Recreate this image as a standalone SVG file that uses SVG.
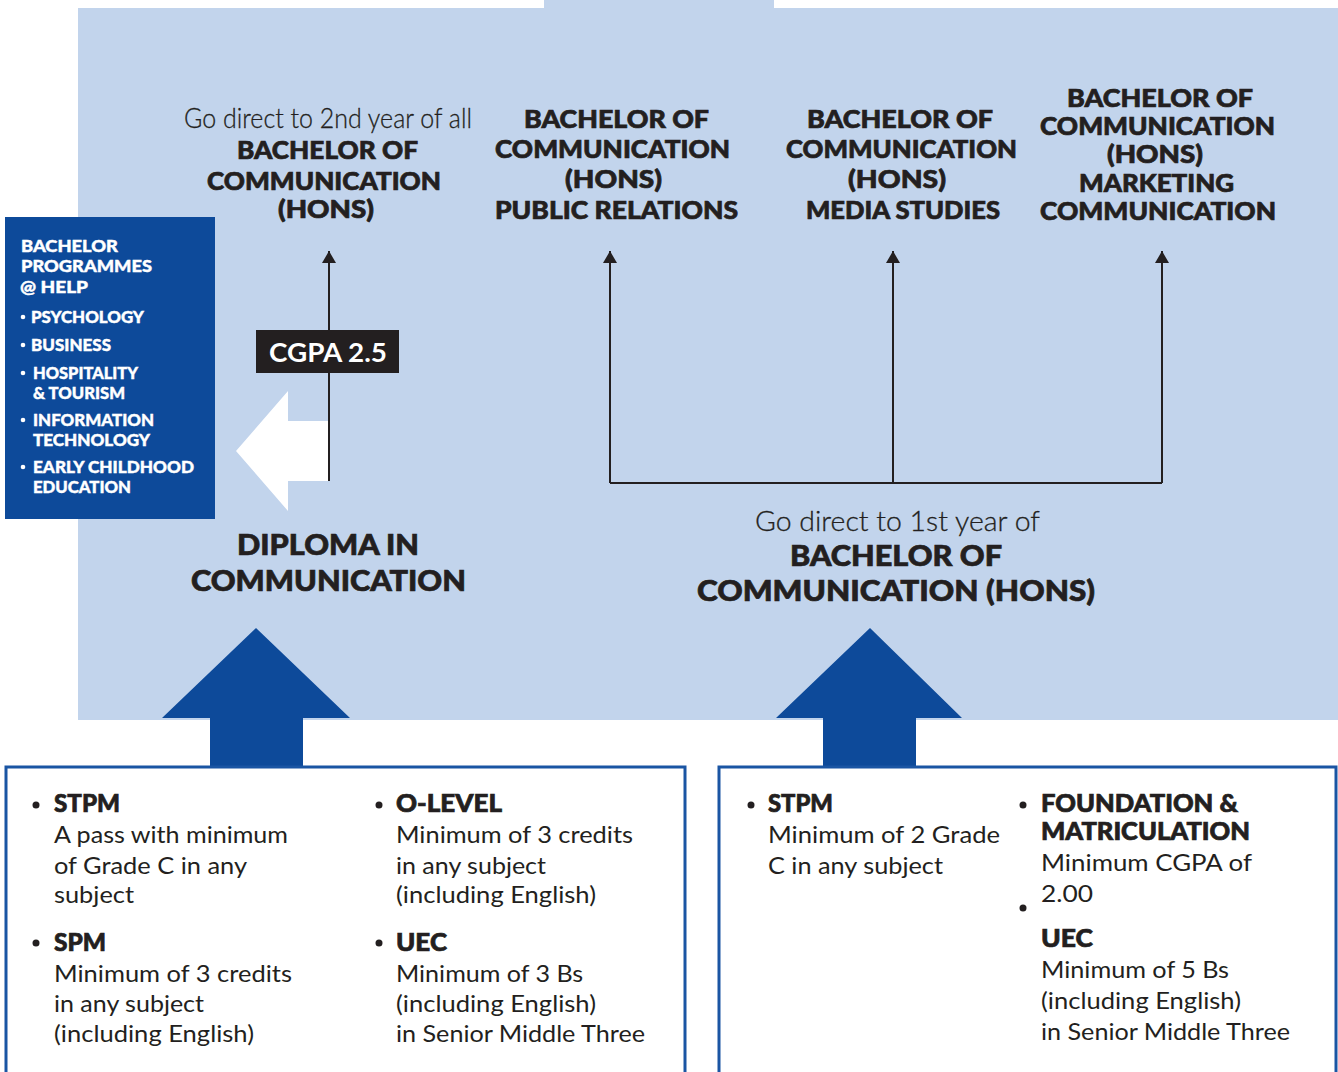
<svg xmlns="http://www.w3.org/2000/svg" width="1338" height="1072" viewBox="0 0 1338 1072">
<defs>
<style>
.h{font-family:Lato,"Liberation Sans",sans-serif;font-weight:900;fill:#231f20;stroke:#231f20;stroke-width:0.7px}
.l{font-family:Lato,"Liberation Sans",sans-serif;font-weight:400;fill:#231f20}
.g{font-family:Lato,"Liberation Sans",sans-serif;font-weight:300;fill:#231f20;stroke:#231f20;stroke-width:0.3px;font-size:28px}
.w{font-family:Lato,"Liberation Sans",sans-serif;font-weight:900;fill:#ffffff;stroke:#ffffff;stroke-width:0.4px;font-size:16px}
.t{font-size:25px}
.d{font-size:29px}
.b{font-size:24px}
.conn{stroke:#231f20;stroke-width:2;fill:none}
.blue{fill:#0d4a9a}
.box{fill:#ffffff;stroke:#1a55a3;stroke-width:3}
</style>
<marker id="ah" markerUnits="userSpaceOnUse" viewBox="0 0 12 14" refX="12" refY="7" markerWidth="12" markerHeight="14" orient="auto">
<path d="M0,0 L12,7 L0,14 z" fill="#231f20"/>
</marker>
</defs>
<rect width="1338" height="1072" fill="#ffffff"/>
<g id="background">
<rect x="78" y="8" width="1260" height="712" fill="#c2d4ec"/>
<rect x="544" y="0" width="230" height="10" fill="#c2d4ec"/>
</g>

<g id="bachelor-programmes">
<rect x="5" y="217" width="210" height="302" class="blue"/>
<text class="w" x="21" y="252" textLength="97" lengthAdjust="spacingAndGlyphs">BACHELOR</text>
<text class="w" x="21" y="272" textLength="131" lengthAdjust="spacingAndGlyphs">PROGRAMMES</text>
<text class="w" x="20" y="293" textLength="68" lengthAdjust="spacingAndGlyphs">@ HELP</text>
<circle cx="23" cy="317" r="2.3" fill="#fff"/>
<text class="w" x="31" y="323" textLength="113" lengthAdjust="spacingAndGlyphs">PSYCHOLOGY</text>
<circle cx="23" cy="345" r="2.3" fill="#fff"/>
<text class="w" x="31" y="351" textLength="80" lengthAdjust="spacingAndGlyphs">BUSINESS</text>
<circle cx="23" cy="373" r="2.3" fill="#fff"/>
<text class="w" x="33" y="379" textLength="105" lengthAdjust="spacingAndGlyphs">HOSPITALITY</text>
<text class="w" x="33" y="399" textLength="92" lengthAdjust="spacingAndGlyphs">&amp; TOURISM</text>
<circle cx="23" cy="420" r="2.3" fill="#fff"/>
<text class="w" x="33" y="426" textLength="121" lengthAdjust="spacingAndGlyphs">INFORMATION</text>
<text class="w" x="33" y="446" textLength="117" lengthAdjust="spacingAndGlyphs">TECHNOLOGY</text>
<circle cx="23" cy="467" r="2.3" fill="#fff"/>
<text class="w" x="33" y="473" textLength="161" lengthAdjust="spacingAndGlyphs">EARLY CHILDHOOD</text>
<text class="w" x="33" y="493" textLength="98" lengthAdjust="spacingAndGlyphs">EDUCATION</text>
</g>

<g id="white-arrow">
<polygon points="236,451 288,391 288,421 328,421 328,481 288,481 288,511" fill="#ffffff"/>
</g>

<g id="connectors">
<path class="conn" d="M329,481 V251" marker-end="url(#ah)"/>
<path class="conn" d="M610,483 H1162"/>
<path class="conn" d="M610,483 V251" marker-end="url(#ah)"/>
<path class="conn" d="M893,483 V251" marker-end="url(#ah)"/>
<path class="conn" d="M1162,483 V251" marker-end="url(#ah)"/>
</g>

<g id="cgpa">
<rect x="256" y="330" width="143" height="43" fill="#231f20"/>
<text x="269" y="362" textLength="118" lengthAdjust="spacingAndGlyphs" style="font-family:Lato,'Liberation Sans',sans-serif;font-weight:700;font-size:26px;fill:#ffffff">CGPA 2.5</text>
</g>

<g id="node-2nd-year">
<text class="g" x="184" y="128" textLength="288" lengthAdjust="spacingAndGlyphs">Go direct to 2nd year of all</text>
<text class="h t" x="237" y="159" textLength="181" lengthAdjust="spacingAndGlyphs">BACHELOR OF</text>
<text class="h t" x="207" y="190" textLength="234" lengthAdjust="spacingAndGlyphs">COMMUNICATION</text>
<text class="h t" x="278" y="218" textLength="96" lengthAdjust="spacingAndGlyphs">(HONS)</text>
</g>

<g id="node-pr">
<text class="h t" x="524" y="128" textLength="185" lengthAdjust="spacingAndGlyphs">BACHELOR OF</text>
<text class="h t" x="495" y="158" textLength="235" lengthAdjust="spacingAndGlyphs">COMMUNICATION</text>
<text class="h t" x="565" y="188" textLength="97" lengthAdjust="spacingAndGlyphs">(HONS)</text>
<text class="h t" x="495" y="219" textLength="243" lengthAdjust="spacingAndGlyphs">PUBLIC RELATIONS</text>
</g>

<g id="node-media">
<text class="h t" x="807" y="128" textLength="186" lengthAdjust="spacingAndGlyphs">BACHELOR OF</text>
<text class="h t" x="786" y="158" textLength="231" lengthAdjust="spacingAndGlyphs">COMMUNICATION</text>
<text class="h t" x="848" y="188" textLength="98" lengthAdjust="spacingAndGlyphs">(HONS)</text>
<text class="h t" x="806" y="219" textLength="194" lengthAdjust="spacingAndGlyphs">MEDIA STUDIES</text>
</g>

<g id="node-marketing">
<text class="h t" x="1067" y="107" textLength="186" lengthAdjust="spacingAndGlyphs">BACHELOR OF</text>
<text class="h t" x="1040" y="135" textLength="235" lengthAdjust="spacingAndGlyphs">COMMUNICATION</text>
<text class="h t" x="1107" y="163" textLength="96" lengthAdjust="spacingAndGlyphs">(HONS)</text>
<text class="h t" x="1079" y="192" textLength="155" lengthAdjust="spacingAndGlyphs">MARKETING</text>
<text class="h t" x="1040" y="220" textLength="236" lengthAdjust="spacingAndGlyphs">COMMUNICATION</text>
</g>

<g id="node-diploma">
<text class="h d" x="237" y="555" textLength="182" lengthAdjust="spacingAndGlyphs">DIPLOMA IN</text>
<text class="h d" x="191" y="591" textLength="275" lengthAdjust="spacingAndGlyphs">COMMUNICATION</text>
</g>

<g id="node-1st-year">
<text class="g" x="755" y="531" textLength="285" lengthAdjust="spacingAndGlyphs">Go direct to 1st year of</text>
<text class="h d" x="790" y="566" textLength="212" lengthAdjust="spacingAndGlyphs">BACHELOR OF</text>
<text class="h d" x="697" y="601" textLength="398" lengthAdjust="spacingAndGlyphs">COMMUNICATION (HONS)</text>
</g>

<g id="blue-arrows">
<polygon class="blue" points="256,628 350,718 303,718 303,767 210,767 210,718 162,718"/>
<polygon class="blue" points="870,628 962,718 916,718 916,767 823,767 823,718 776,718"/>
</g>

<g id="requirements-diploma">
<rect class="box" x="6" y="767" width="679" height="320"/>
<circle cx="36" cy="805" r="3.5" fill="#231f20"/>
<text class="h b" x="54" y="812" textLength="66" lengthAdjust="spacingAndGlyphs">STPM</text>
<text class="l b" x="54" y="843" textLength="234" lengthAdjust="spacingAndGlyphs">A pass with minimum</text>
<text class="l b" x="54" y="874" textLength="193" lengthAdjust="spacingAndGlyphs">of Grade C in any</text>
<text class="l b" x="54" y="903" textLength="80" lengthAdjust="spacingAndGlyphs">subject</text>
<circle cx="36" cy="943" r="3.5" fill="#231f20"/>
<text class="h b" x="54" y="951" textLength="52" lengthAdjust="spacingAndGlyphs">SPM</text>
<text class="l b" x="54" y="982" textLength="238" lengthAdjust="spacingAndGlyphs">Minimum of 3 credits</text>
<text class="l b" x="54" y="1012" textLength="150" lengthAdjust="spacingAndGlyphs">in any subject</text>
<text class="l b" x="54" y="1042" textLength="200" lengthAdjust="spacingAndGlyphs">(including English)</text>
<circle cx="379" cy="805" r="3.5" fill="#231f20"/>
<text class="h b" x="396" y="812" textLength="106" lengthAdjust="spacingAndGlyphs">O-LEVEL</text>
<text class="l b" x="396" y="843" textLength="237" lengthAdjust="spacingAndGlyphs">Minimum of 3 credits</text>
<text class="l b" x="396" y="874" textLength="150" lengthAdjust="spacingAndGlyphs">in any subject</text>
<text class="l b" x="396" y="903" textLength="200" lengthAdjust="spacingAndGlyphs">(including English)</text>
<circle cx="379" cy="943" r="3.5" fill="#231f20"/>
<text class="h b" x="396" y="951" textLength="51" lengthAdjust="spacingAndGlyphs">UEC</text>
<text class="l b" x="396" y="982" textLength="187" lengthAdjust="spacingAndGlyphs">Minimum of 3 Bs</text>
<text class="l b" x="396" y="1012" textLength="200" lengthAdjust="spacingAndGlyphs">(including English)</text>
<text class="l b" x="396" y="1042" textLength="249" lengthAdjust="spacingAndGlyphs">in Senior Middle Three</text>
</g>

<g id="requirements-bachelor">
<rect class="box" x="719" y="767" width="617" height="320"/>
<circle cx="751" cy="805" r="3.5" fill="#231f20"/>
<text class="h b" x="768" y="812" textLength="65" lengthAdjust="spacingAndGlyphs">STPM</text>
<text class="l b" x="768" y="843" textLength="232" lengthAdjust="spacingAndGlyphs">Minimum of 2 Grade</text>
<text class="l b" x="768" y="874" textLength="175" lengthAdjust="spacingAndGlyphs">C in any subject</text>
<circle cx="1023" cy="805" r="3.5" fill="#231f20"/>
<text class="h b" x="1041" y="812" textLength="197" lengthAdjust="spacingAndGlyphs">FOUNDATION &amp;</text>
<text class="h b" x="1041" y="840" textLength="209" lengthAdjust="spacingAndGlyphs">MATRICULATION</text>
<text class="l b" x="1041" y="871" textLength="211" lengthAdjust="spacingAndGlyphs">Minimum CGPA of</text>
<text class="l b" x="1041" y="902" textLength="52" lengthAdjust="spacingAndGlyphs">2.00</text>
<circle cx="1023" cy="908" r="3.5" fill="#231f20"/>
<text class="h b" x="1041" y="947" textLength="52" lengthAdjust="spacingAndGlyphs">UEC</text>
<text class="l b" x="1041" y="978" textLength="188" lengthAdjust="spacingAndGlyphs">Minimum of 5 Bs</text>
<text class="l b" x="1041" y="1009" textLength="200" lengthAdjust="spacingAndGlyphs">(including English)</text>
<text class="l b" x="1041" y="1040" textLength="249" lengthAdjust="spacingAndGlyphs">in Senior Middle Three</text>
</g>
</svg>
